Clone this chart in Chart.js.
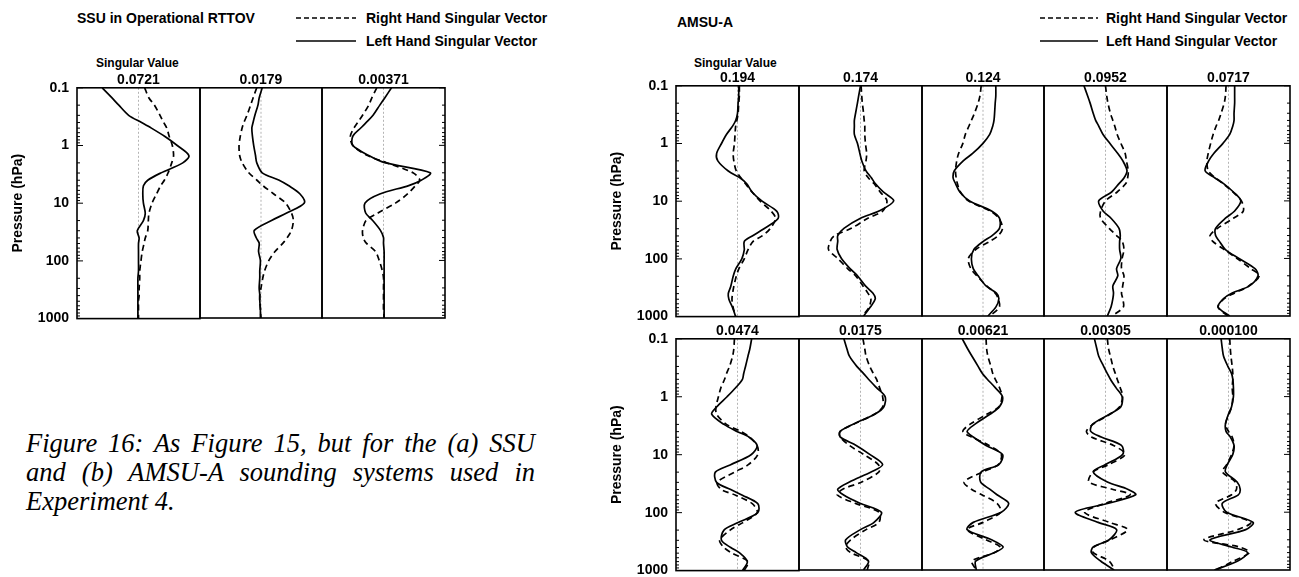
<!DOCTYPE html>
<html>
<head>
<meta charset="utf-8">
<script src="https://cdn.jsdelivr.net/npm/chart.js@4.4.0/dist/chart.umd.min.js"></script>
<style>
body { margin: 0; background: #fff; width: 1299px; height: 577px; position: relative; overflow: hidden;
       font-family: "Liberation Sans", Arial, sans-serif; color: #000; }
.t { position: absolute; font-weight: bold; font-size: 14px; line-height: 16px; white-space: nowrap; }
.sv { position: absolute; font-weight: bold; font-size: 12px; line-height: 14px; white-space: nowrap; }
.leg { position: absolute; }
canvas { position: absolute; }
#caption { position: absolute; left: 26px; top: 429px; width: 509px; font-family: "Liberation Serif", "Times New Roman", serif;
           font-style: italic; font-size: 26.5px; line-height: 29px; }
#caption div { text-align: justify; text-align-last: justify; white-space: nowrap; }
#caption div.last { text-align-last: left; }
</style>
</head>
<body>
<div class="t" style="left:77px;top:10px">SSU in Operational RTTOV</div>
<svg class="leg" style="left:296px;top:12px" width="62" height="12"><line x1="0" y1="6" x2="60" y2="6" stroke="#000" stroke-width="1.6" stroke-dasharray="5,3"/></svg>
<div class="t" style="left:366px;top:10px">Right Hand Singular Vector</div>
<svg class="leg" style="left:296px;top:35px" width="62" height="12"><line x1="0" y1="6" x2="60" y2="6" stroke="#000" stroke-width="1.6"/></svg>
<div class="t" style="left:366px;top:33px">Left Hand Singular Vector</div>
<div class="sv" style="left:96px;top:56px">Singular Value</div>

<div class="t" style="left:677px;top:14px">AMSU-A</div>
<svg class="leg" style="left:1040px;top:12px" width="62" height="12"><line x1="0" y1="6" x2="58" y2="6" stroke="#000" stroke-width="1.6" stroke-dasharray="5,3"/></svg>
<div class="t" style="left:1106px;top:10px">Right Hand Singular Vector</div>
<svg class="leg" style="left:1040px;top:35px" width="62" height="12"><line x1="0" y1="6" x2="58" y2="6" stroke="#000" stroke-width="1.6"/></svg>
<div class="t" style="left:1106px;top:33px">Left Hand Singular Vector</div>
<div class="sv" style="left:694px;top:56px">Singular Value</div>

<div id="caption">
  <div>Figure 16: As Figure 15, but for the (a) SSU</div>
  <div>and (b) AMSU-A sounding systems used in</div>
  <div class="last">Experiment 4.</div>
</div>

<script>
// pressure levels (hPa) shared by every profile
var presLevels = [0.1, 0.15, 0.2, 0.3, 0.4, 0.5, 0.7, 1, 1.5, 2, 3, 4, 5, 7, 10, 15, 20, 30, 40, 50, 70, 100, 150, 200, 300, 400, 500, 700, 1000];
var yTicks = [0.1, 1, 10, 100, 1000];

// SSU
var ssuValues = ['0.0721', '0.0179', '0.00371'];
var ssuLeft = [
  [-0.59, -0.43, -0.32, -0.16, 0.05, 0.21, 0.43, 0.63, 0.82, 0.72, 0.36, 0.15, 0.08, 0.07, 0.08, 0.11, 0.08, -0.02, 0.01, 0.0, 0.0, 0.0, 0.0, -0.01, -0.01, -0.01, -0.01, -0.01, -0.01],
  [0.02, -0.03, -0.05, -0.10, -0.13, -0.15, -0.14, -0.12, -0.09, -0.07, 0.02, 0.29, 0.45, 0.64, 0.71, 0.42, 0.18, -0.11, -0.08, -0.03, -0.04, -0.01, -0.02, -0.02, -0.03, -0.02, -0.02, -0.01, -0.01],
  [0.13, 0.02, -0.06, -0.17, -0.28, -0.37, -0.50, -0.50, -0.24, 0.02, 0.76, 0.62, 0.41, -0.06, -0.30, -0.29, -0.18, -0.05, 0.0, 0.0, 0.01, 0.01, 0.01, 0.01, 0.01, 0.01, 0.01, 0.01, 0.01]
];
var ssuRight = [
  [0.10, 0.17, 0.26, 0.35, 0.41, 0.46, 0.50, 0.55, 0.57, 0.54, 0.48, 0.42, 0.36, 0.29, 0.22, 0.17, 0.16, 0.15, 0.11, 0.09, 0.06, 0.04, 0.02, 0.02, 0.01, 0.01, 0.0, 0.0, 0.0],
  [-0.07, -0.13, -0.17, -0.23, -0.28, -0.31, -0.34, -0.36, -0.35, -0.31, -0.20, -0.07, 0.03, 0.21, 0.40, 0.50, 0.53, 0.50, 0.43, 0.36, 0.23, 0.13, 0.06, 0.03, 0.0, -0.02, -0.02, -0.01, 0.0],
  [-0.11, -0.19, -0.24, -0.34, -0.42, -0.48, -0.54, -0.50, -0.26, 0.05, 0.48, 0.59, 0.52, 0.39, 0.20, -0.09, -0.28, -0.34, -0.33, -0.28, -0.13, -0.07, -0.02, 0.0, 0.0, 0.0, 0.0, 0.0, 0.01]
];

// AMSU-A (first five: top row, last five: bottom row)
var amsuValues = ['0.194', '0.174', '0.124', '0.0952', '0.0717', '0.0474', '0.0175', '0.00621', '0.00305', '0.000100'];
var amsuLeft = [
  [0.02, 0.02, 0.01, 0.0, -0.03, -0.08, -0.18, -0.26, -0.34, -0.32, -0.15, 0.05, 0.15, 0.24, 0.40, 0.64, 0.66, 0.43, 0.24, 0.11, 0.11, 0.07, -0.03, -0.07, -0.11, -0.15, -0.14, -0.08, -0.03],
  [0.0, -0.03, -0.05, -0.08, -0.10, -0.10, -0.10, -0.05, -0.01, 0.02, 0.09, 0.18, 0.24, 0.37, 0.54, 0.30, 0.0, -0.27, -0.37, -0.37, -0.38, -0.31, -0.17, -0.05, 0.08, 0.20, 0.24, 0.16, 0.05],
  [0.21, 0.21, 0.20, 0.19, 0.18, 0.16, 0.11, 0.0, -0.17, -0.32, -0.47, -0.49, -0.45, -0.38, -0.22, 0.14, 0.27, 0.27, 0.15, 0.01, -0.15, -0.19, -0.16, -0.08, 0.05, 0.22, 0.26, 0.21, 0.08],
  [-0.35, -0.29, -0.25, -0.20, -0.16, -0.11, -0.04, 0.07, 0.20, 0.28, 0.35, 0.30, 0.22, 0.10, -0.11, -0.04, 0.09, 0.22, 0.24, 0.23, 0.23, 0.25, 0.18, 0.20, 0.12, 0.13, 0.12, 0.09, 0.03],
  [0.10, 0.10, 0.10, 0.09, 0.09, 0.07, 0.02, -0.09, -0.24, -0.32, -0.38, -0.22, -0.08, 0.08, 0.20, 0.10, -0.05, -0.21, -0.21, -0.15, -0.05, 0.17, 0.43, 0.48, 0.34, 0.06, -0.08, -0.17, 0.02],
  [0.23, 0.20, 0.17, 0.13, 0.10, 0.08, -0.03, -0.17, -0.34, -0.42, -0.22, 0.0, 0.19, 0.32, 0.22, -0.12, -0.36, -0.34, -0.11, 0.08, 0.33, 0.33, 0.0, -0.22, -0.26, -0.11, 0.04, 0.16, 0.08],
  [-0.27, -0.22, -0.18, -0.06, 0.05, 0.13, 0.26, 0.40, 0.38, 0.24, -0.12, -0.33, -0.33, -0.07, 0.15, 0.36, 0.18, -0.18, -0.37, -0.28, -0.01, 0.34, 0.22, 0.0, -0.24, -0.21, -0.07, 0.13, 0.05],
  [-0.34, -0.25, -0.18, -0.08, -0.01, 0.07, 0.20, 0.32, 0.27, 0.12, -0.13, -0.26, -0.16, 0.05, 0.32, 0.26, -0.03, -0.04, 0.11, 0.23, 0.42, 0.30, -0.16, -0.26, 0.14, 0.33, 0.19, -0.12, -0.11],
  [-0.18, -0.14, -0.11, -0.03, 0.03, 0.08, 0.17, 0.27, 0.25, 0.07, -0.21, -0.24, -0.07, 0.26, 0.28, 0.0, -0.20, 0.03, 0.36, 0.49, 0.05, -0.49, -0.12, 0.18, 0.06, -0.20, -0.23, -0.08, 0.14],
  [-0.12, -0.10, -0.08, -0.01, 0.05, 0.07, 0.08, 0.08, 0.05, 0.0, -0.05, -0.04, 0.03, 0.09, 0.07, -0.02, -0.05, 0.14, 0.19, 0.16, -0.10, -0.03, 0.40, 0.28, -0.30, 0.05, 0.31, 0.15, -0.23]
];
var amsuRight = [
  [0.03, 0.03, 0.02, 0.01, -0.01, -0.03, -0.04, -0.05, -0.07, -0.06, -0.02, 0.06, 0.13, 0.24, 0.37, 0.55, 0.62, 0.53, 0.40, 0.25, 0.17, 0.11, 0.02, -0.02, -0.06, -0.08, -0.09, -0.07, -0.03],
  [0.01, 0.02, 0.03, 0.05, 0.06, 0.07, 0.07, 0.08, 0.10, 0.09, 0.06, 0.13, 0.22, 0.32, 0.43, 0.36, 0.12, -0.15, -0.42, -0.49, -0.52, -0.37, -0.21, -0.08, 0.04, 0.12, 0.17, 0.14, 0.03],
  [-0.03, -0.05, -0.08, -0.14, -0.19, -0.23, -0.29, -0.33, -0.40, -0.43, -0.45, -0.44, -0.42, -0.37, -0.24, 0.12, 0.26, 0.32, 0.25, 0.12, -0.12, -0.24, -0.20, -0.10, 0.06, 0.20, 0.25, 0.27, 0.11],
  [0.0, 0.02, 0.04, 0.08, 0.12, 0.15, 0.19, 0.25, 0.32, 0.34, 0.37, 0.36, 0.33, 0.19, 0.0, -0.08, -0.08, 0.06, 0.18, 0.27, 0.30, 0.27, 0.26, 0.30, 0.28, 0.26, 0.28, 0.29, 0.11],
  [-0.04, -0.05, -0.07, -0.12, -0.16, -0.20, -0.25, -0.29, -0.33, -0.35, -0.33, -0.21, -0.09, 0.07, 0.21, 0.24, 0.08, -0.18, -0.30, -0.26, -0.07, 0.14, 0.36, 0.50, 0.33, 0.10, -0.07, -0.17, -0.01],
  [-0.05, -0.06, -0.08, -0.13, -0.18, -0.21, -0.27, -0.31, -0.35, -0.34, -0.18, 0.06, 0.20, 0.32, 0.33, 0.17, -0.05, -0.33, -0.26, -0.03, 0.24, 0.32, 0.08, -0.12, -0.29, -0.22, -0.09, 0.17, 0.11],
  [0.04, 0.07, 0.09, 0.15, 0.21, 0.26, 0.31, 0.36, 0.36, 0.23, -0.11, -0.33, -0.33, -0.18, 0.05, 0.29, 0.30, 0.02, -0.29, -0.38, -0.09, 0.30, 0.30, 0.09, -0.16, -0.24, -0.16, 0.13, 0.11],
  [0.05, 0.06, 0.08, 0.13, 0.16, 0.20, 0.27, 0.31, 0.26, 0.07, -0.21, -0.33, -0.19, 0.10, 0.30, 0.25, 0.0, -0.31, -0.19, -0.02, 0.23, 0.29, 0.0, -0.26, 0.05, 0.28, 0.19, -0.18, -0.11],
  [0.03, 0.05, 0.08, 0.12, 0.16, 0.19, 0.24, 0.28, 0.23, 0.08, -0.20, -0.31, -0.23, 0.13, 0.32, 0.05, -0.20, -0.27, 0.11, 0.40, 0.0, -0.34, 0.06, 0.36, 0.08, -0.19, -0.20, 0.06, 0.15],
  [0.02, 0.03, 0.04, 0.06, 0.07, 0.07, 0.06, 0.07, 0.05, 0.01, -0.05, 0.0, 0.06, 0.09, 0.05, -0.03, -0.10, 0.11, 0.13, 0.05, -0.21, -0.07, 0.36, 0.15, -0.40, 0.18, 0.34, 0.08, -0.20]
];

// frame, zero line and inward log ticks for each sub panel
var framePlugin = {
  id: 'frame',
  beforeDatasetsDraw: function (chart) {
    var ctx = chart.ctx, a = chart.chartArea;
    var x0 = chart.scales.x.getPixelForValue(0);
    ctx.save();
    ctx.strokeStyle = '#b4b4b4';
    ctx.lineWidth = 1;
    ctx.setLineDash([2, 2]);
    ctx.beginPath();
    ctx.moveTo(x0, a.top);
    ctx.lineTo(x0, a.bottom);
    ctx.stroke();
    ctx.restore();
  },
  afterDraw: function (chart, args, opts) {
    var ctx = chart.ctx, a = chart.chartArea, ys = chart.scales.y;
    ctx.save();
    ctx.strokeStyle = '#000';
    ctx.lineWidth = 1.6;
    ctx.strokeRect(a.left, a.top, a.right - a.left, a.bottom - a.top);
    ctx.lineWidth = 1;
    var sides = [];
    if (opts.left) sides.push([a.left, 1]);
    if (opts.right) sides.push([a.right, -1]);
    sides.forEach(function (s) {
      for (var e = -1; e <= 2; e++) {
        for (var m = 1; m <= 9; m++) {
          var v = m * Math.pow(10, e);
          var py = ys.getPixelForValue(v);
          var len = m === 1 ? 6 : 3;
          ctx.beginPath();
          ctx.moveTo(s[0], py);
          ctx.lineTo(s[0] + s[1] * len, py);
          ctx.stroke();
        }
      }
    });
    ctx.restore();
  }
};

function chartConfig(left, right, title, showY, leftTicks, rightTicks) {
  return {
    type: 'line',
    data: {
      datasets: [
        {
          data: presLevels.map(function (p, i) { return { x: right[i], y: p }; }),
          borderColor: '#000', borderWidth: 1.7, borderDash: [6, 4],
          pointRadius: 0, tension: 0.3, fill: false
        },
        {
          data: presLevels.map(function (p, i) { return { x: left[i], y: p }; }),
          borderColor: '#000', borderWidth: 1.7,
          pointRadius: 0, tension: 0.3, fill: false
        }
      ]
    },
    options: {
      responsive: false,
      animation: false,
      devicePixelRatio: 1,
      events: [],
      layout: { padding: { left: showY ? 0 : 3, right: 3, top: 0, bottom: 3 } },
      scales: {
        x: { type: 'linear', min: -1, max: 1, display: false },
        y: {
          type: 'logarithmic', reverse: true, min: 0.1, max: 1000,
          display: showY,
          afterBuildTicks: function (s) { s.ticks = yTicks.map(function (v) { return { value: v }; }); },
          afterFit: function (s) { if (showY) s.width = 76; },
          grid: { display: false, drawTicks: false },
          border: { display: false },
          ticks: {
            autoSkip: false, padding: 8, color: '#000',
            font: { family: 'Liberation Sans', size: 14, weight: 'bold' },
            callback: function (v) { return String(v); }
          },
          title: {
            display: true, text: 'Pressure (hPa)', color: '#000',
            font: { family: 'Liberation Sans', size: 14, weight: 'bold' },
            padding: { top: 9, bottom: 0 }
          }
        }
      },
      plugins: {
        legend: { display: false },
        tooltip: { enabled: false },
        title: {
          display: true, text: title, fullSize: false, color: '#000',
          font: { family: 'Liberation Sans', size: 14, weight: 'bold' },
          padding: { top: 4, bottom: -1 }
        },
        frame: { left: leftTicks, right: rightTicks }
      }
    },
    plugins: [framePlugin]
  };
}

// place one sub panel so that its chart area lands on the given box
function addPanel(box, left, right, title, showY, leftTicks, rightTicks) {
  var probe = document.createElement('canvas');
  probe.width = box.w + 200; probe.height = box.h + 100;
  document.body.appendChild(probe);
  var c = new Chart(probe, chartConfig(left, right, title, showY, leftTicks, rightTicks));
  var a = c.chartArea;
  var inL = a.left, inT = a.top, inR = probe.width - a.right, inB = probe.height - a.bottom;
  c.destroy();
  probe.remove();

  var cv = document.createElement('canvas');
  cv.width = box.w + inL + inR;
  cv.height = box.h + inT + inB;
  cv.style.left = (box.x - inL) + 'px';
  cv.style.top = (box.y - inT) + 'px';
  document.body.appendChild(cv);
  new Chart(cv, chartConfig(left, right, title, showY, leftTicks, rightTicks));
}

function addRow(x0, x1, top, height, n, lefts, rights, titles) {
  var w = (x1 - x0) / n;
  for (var k = 0; k < n; k++) {
    var a = Math.round(x0 + k * w), b = Math.round(x0 + (k + 1) * w);
    addPanel({ x: a, y: top, w: b - a, h: height }, lefts[k], rights[k], titles[k],
      k === 0, k === 0, k === n - 1);
  }
}

addRow(77, 445, 88, 231, 3, ssuLeft, ssuRight, ssuValues);
addRow(676, 1290, 86, 231, 5, amsuLeft.slice(0, 5), amsuRight.slice(0, 5), amsuValues.slice(0, 5));
addRow(676, 1290, 339, 232, 5, amsuLeft.slice(5), amsuRight.slice(5), amsuValues.slice(5));
</script>
</body>
</html>
